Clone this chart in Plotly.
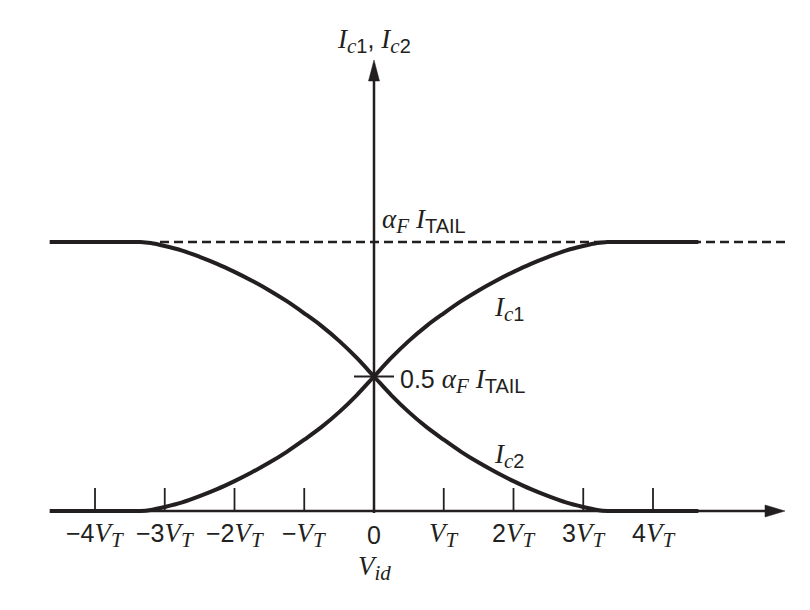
import plotly.graph_objects as go

# ---- data (V_id in units of V_T, currents normalised to alpha_F * I_TAIL) ----
vid = [-4.65, -3.6, -3.35, -3.2, -3.0, -2.75, -2.5, -2.25, -2.0, -1.75, -1.5, -1.25,
       -1.0, -0.75, -0.5, -0.25, 0.0, 0.25, 0.5, 0.75, 1.0, 1.25, 1.5, 1.75, 2.0,
       2.25, 2.5, 2.75, 3.0, 3.2, 3.35, 3.6, 4.65]
ic1 = [0.0, 0.0, 0.0, 0.004, 0.015, 0.032, 0.055, 0.081, 0.111, 0.144, 0.18, 0.22,
       0.265, 0.3125, 0.3675, 0.43, 0.5, 0.57, 0.6325, 0.6875, 0.735, 0.78, 0.82,
       0.856, 0.889, 0.919, 0.945, 0.968, 0.985, 0.996, 1.0, 1.0, 1.0]
ic2 = [1.0, 1.0, 1.0, 0.996, 0.985, 0.968, 0.945, 0.919, 0.889, 0.856, 0.82, 0.78,
       0.735, 0.6875, 0.6325, 0.57, 0.5, 0.43, 0.3675, 0.3125, 0.265, 0.22, 0.18,
       0.144, 0.111, 0.081, 0.055, 0.032, 0.015, 0.004, 0.0, 0.0, 0.0]
tick_vals = [-4, -3, -2, -1, 0, 1, 2, 3, 4]
tick_prefix = ["−4", "−3", "−2", "−", "0", "", "2", "3", "4"]
tail_level = 1.0
half_level = 0.5

SER = "font-family:'Liberation Serif';font-size:27px"
SUBFS = "font-size:20px"
SUBSER = "font-family:'Liberation Serif';font-size:21px"

def ital(s, style=SER):
    return f"<span style=\"{style}\"><i>{s}</i></span>"

def sub(inner):
    return f"<sub><span style=\"{SUBFS}\">{inner}</span></sub>"

def si(s):
    return ital(s, SUBSER)

def VT(prefix):
    return prefix + ital("V") + sub(si("T"))

tick_text = [p if p == "0" else VT(p) for p in tick_prefix]

INK = "#231f20"
PXX = 69.75   # px per V_T
PXY = 269.0   # px per unit current
X0, Y0 = 374, 511
OFF = 8       # page body margin

def dx(px):
    return (px - X0) / PXX
def dy(py):
    return (Y0 - py) / PXY

fig = go.Figure()
for ys in (ic1, ic2):
    fig.add_trace(go.Scatter(x=vid, y=ys, mode="lines",
                             line=dict(color=INK, width=4, shape="spline", smoothing=1.0),
                             hoverinfo="skip", showlegend=False))

shapes = []
shapes.append(dict(type="line", x0=dx(160), x1=dx(790), y0=tail_level, y1=tail_level,
                   line=dict(color=INK, width=2.5, dash="9px,5px"), layer="below"))
shapes.append(dict(type="line", x0=dx(50), x1=dx(768), y0=0, y1=0, line=dict(color=INK, width=2.5)))
shapes.append(dict(type="path", path=f"M {dx(785)},0 L {dx(765)},{dy(511-6)} L {dx(765)},{dy(511+6)} Z",
                   fillcolor=INK, line=dict(color=INK, width=0.5)))
shapes.append(dict(type="line", x0=0, x1=0, y0=dy(513), y1=dy(78), line=dict(color=INK, width=2.5)))
shapes.append(dict(type="path", path=f"M 0,{dy(60)} L {dx(374-5.5)},{dy(81)} L {dx(374+5.5)},{dy(81)} Z",
                   fillcolor=INK, line=dict(color=INK, width=0.5)))
for t in tick_vals:
    if t == 0:
        continue
    shapes.append(dict(type="line", x0=t, x1=t, y0=0, y1=dy(488), line=dict(color=INK, width=1.8)))
shapes.append(dict(type="line", x0=dx(354), x1=dx(394), y0=half_level, y1=half_level,
                   line=dict(color=INK, width=2)))

ann = []
FS = 25
def add(x, y, text, xanchor="center"):
    ann.append(dict(x=x, y=y, text=text, showarrow=False, xanchor=xanchor, yanchor="middle",
                    font=dict(size=FS, color=INK)))

for t, txt in zip(tick_vals, tick_text):
    add(t, dy(535), txt)
add(0, dy(568), ital("V") + sub(si("id")))
add(0, dy(41), ital("I") + sub(si("c") + "1") + ", " + ital("I") + sub(si("c") + "2"))
AF = ital("α") + sub(si("F")) + " " + ital("I") + sub("TAIL")
add(dx(380), dy(221), AF, "left")
add(dx(398), dy(381), "0.5 " + AF, "left")
add(dx(492), dy(309), ital("I") + sub(si("c") + "1"), "left")
add(dx(492), dy(456), ital("I") + sub(si("c") + "2"), "left")

fig.update_layout(
    width=810 - OFF, height=610 - OFF,
    margin=dict(l=0, r=0, t=0, b=0),
    paper_bgcolor="white", plot_bgcolor="white",
    font=dict(family="Liberation Sans, Arial, sans-serif", color=INK),
    xaxis=dict(range=[dx(OFF), dx(810)], visible=False, fixedrange=True),
    yaxis=dict(range=[dy(610), dy(OFF)], visible=False, fixedrange=True),
    shapes=shapes, annotations=ann,
)
fig.write_html("out.html")
